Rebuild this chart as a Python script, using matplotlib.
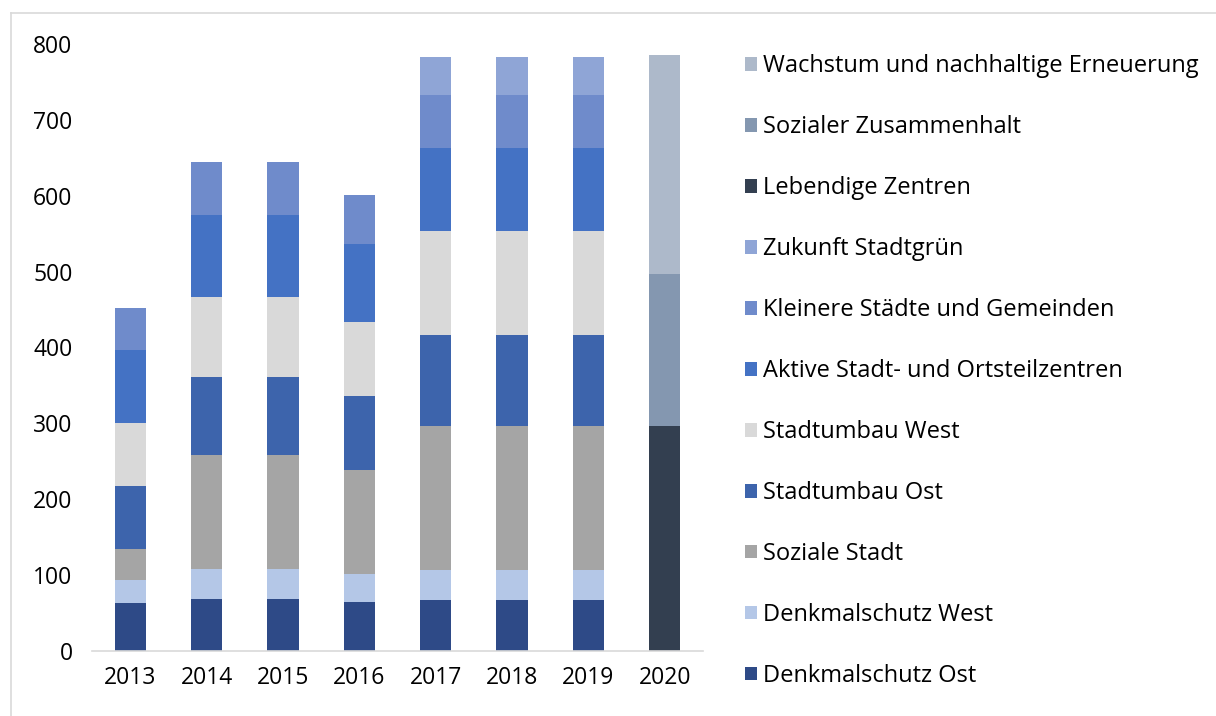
import matplotlib
matplotlib.use("Agg")
from matplotlib import pyplot as plt
from matplotlib.lines import Line2D
from matplotlib.patches import Patch
import numpy as np

plt.rcParams['font.family'] = ['Open Sans', 'DejaVu Sans']

# Jahre und Programme
jahre = ['2013', '2014', '2015', '2016', '2017', '2018', '2019', '2020']

denkmal_ost = [63, 68, 68, 64, 67, 67, 67, 0]
denkmal_west = [31, 40, 40, 37, 40, 40, 40, 0]
soziale_stadt = [40, 150, 150, 138, 190, 190, 190, 0]
stadtumbau_ost = [84, 103, 103, 97, 119, 119, 119, 0]
stadtumbau_west = [82, 105, 105, 98, 138, 138, 138, 0]
aktive_zentren = [97, 108, 108, 102, 109, 109, 109, 0]
kleinere_staedte = [55, 70, 70, 65, 70, 70, 70, 0]
stadtgruen = [0, 0, 0, 0, 50, 50, 50, 0]
lebendige_zentren = [0, 0, 0, 0, 0, 0, 0, 296]
sozialer_zusammenhalt = [0, 0, 0, 0, 0, 0, 0, 201]
wachstum = [0, 0, 0, 0, 0, 0, 0, 289]

reihen = [
    ('Denkmalschutz Ost', denkmal_ost, '#2E4A87'),
    ('Denkmalschutz West', denkmal_west, '#B4C7E7'),
    ('Soziale Stadt', soziale_stadt, '#A5A5A5'),
    ('Stadtumbau Ost', stadtumbau_ost, '#3D64AC'),
    ('Stadtumbau West', stadtumbau_west, '#D9D9D9'),
    ('Aktive Stadt- und Ortsteilzentren', aktive_zentren, '#4472C4'),
    ('Kleinere Städte und Gemeinden', kleinere_staedte, '#6F8BCB'),
    ('Zukunft Stadtgrün', stadtgruen, '#8FA5D6'),
    ('Lebendige Zentren', lebendige_zentren, '#333F50'),
    ('Sozialer Zusammenhalt', sozialer_zusammenhalt, '#8497B0'),
    ('Wachstum und nachhaltige Erneuerung', wachstum, '#ADB9CA'),
]

fig = plt.figure(figsize=(12.16, 7.16), dpi=100)
ax = fig.add_axes([92/1216, 1-651/716, (703-92)/1216, (651-44)/716])

x = np.arange(len(jahre))
unten = np.zeros(len(jahre))
for name, werte, farbe in reihen:
    werte = np.array(werte, dtype=float)
    ax.bar(x, werte, 0.41, bottom=unten, color=farbe, label=name, zorder=2)
    unten = unten + werte

ax.set_xlim(-0.5, len(jahre)-0.5)
ax.set_ylim(0, 800)
ax.set_yticks(range(0, 801, 100))
ax.set_xticks(x)
ax.set_xticklabels(jahre)
for s in ['top', 'right', 'left']:
    ax.spines[s].set_visible(False)
ax.spines['bottom'].set_color('#D9D9D9')
ax.spines['bottom'].set_linewidth(1.2)
ax.tick_params(axis='both', length=0, labelsize=16.5, colors='black')
ax.tick_params(axis='y', pad=14)
ax.tick_params(axis='x', pad=11)

# Legende (umgekehrte Reihenfolge)
handles = [Patch(facecolor=f, edgecolor='none') for _, _, f in reihen][::-1]
labels = [n for n, _, _ in reihen][::-1]
fig.legend(handles, labels, loc='upper left', bbox_to_anchor=(745/1216, 1-54.5/716),
           frameon=False, fontsize=17, handlelength=0.5, handleheight=0.5,
           handletextpad=0.25, labelspacing=1.565, borderaxespad=0, borderpad=0)

# Rahmen
fig.add_artist(Line2D([11/1216, 11/1216], [0, 1-13/716], color='#D9D9D9', lw=1.2))
fig.add_artist(Line2D([11/1216, 1], [1-13/716, 1-13/716], color='#D9D9D9', lw=1.2))

fig.savefig('out.png', dpi=100)
